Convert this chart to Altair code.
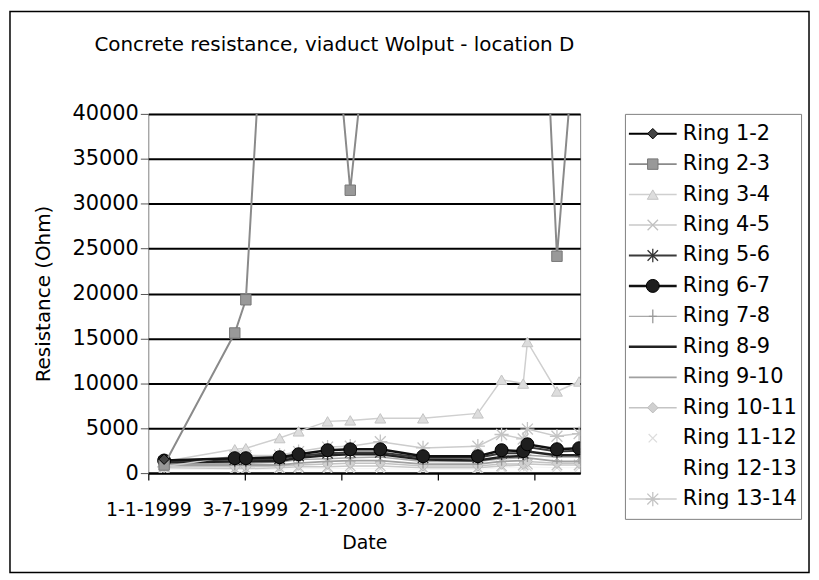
import altair as alt
import pandas as pd

# ---------------- data ----------------
dates = ["1999-01-31", "1999-06-14", "1999-07-05", "1999-09-07", "1999-10-13",
         "1999-12-07", "2000-01-19", "2000-03-16", "2000-06-05", "2000-09-17",
         "2000-11-01", "2000-12-12", "2000-12-20", "2001-02-14", "2001-03-28"]

series_names = ["Ring 1-2", "Ring 2-3", "Ring 3-4", "Ring 4-5", "Ring 5-6",
                "Ring 6-7", "Ring 7-8", "Ring 8-9", "Ring 9-10", "Ring 10-11",
                "Ring 11-12", "Ring 12-13", "Ring 13-14"]

ring_1_2 = [1550, None, None, None, None, None, None, None, None, None, None, None, None, None, None]
ring_2_3 = [900, 15600, 19300, 84000, 80000, 59500, 31500, 63400, 90000, 95000, 95000, 95000, 94300, 24150, 54400]
ring_3_4 = [1300, 2650, 2770, 3900, 4650, 5760, 5870, 6100, 6100, 6650, 10400, 9970, 14600, 9090, 10200]
ring_4_5 = [600, 500, 500, 600, 700, 700, 800, 800, 600, 600, 800, 900, 1000, 900, 900]
ring_5_6 = [1300, 1500, 1500, 1600, 1900, 2200, 2300, 2300, 1700, 1700, 2200, 2200, 2900, 2400, 2500]
ring_6_7 = [1400, 1660, 1660, 1770, 2100, 2550, 2650, 2650, 1880, 1880, 2550, 2440, 3210, 2660, 2770]
ring_7_8 = [1100, 1100, 1100, 1200, 1500, 1600, 1700, 1800, 1300, 1300, 1600, 1700, 2000, 1800, 1800]
ring_8_9 = [1200, 1300, 1300, 1350, 1700, 2000, 2100, 2100, 1500, 1400, 1800, 1900, 2400, 2000, 2000]
ring_9_10 = [900, 900, 900, 900, 1100, 1300, 1400, 1400, 1000, 1000, 1300, 1400, 1700, 1300, 1300]
ring_10_11 = [800, 700, 700, 800, 900, 1000, 1100, 1100, 800, 800, 1000, 1000, 1300, 1100, 1100]
ring_11_12 = [400, 400, 400, 400, 500, 500, 500, 500, 400, 400, 600, 600, 700, 600, 600]
ring_12_13 = [300, 300, 300, 300, 400, 400, 400, 400, 300, 300, 400, 400, 500, 400, 400]
ring_13_14 = [700, 1900, 1950, 2000, 2400, 2900, 3000, 3500, 2800, 3000, 4300, 3800, 4900, 4100, 4400]

values = [ring_1_2, ring_2_3, ring_3_4, ring_4_5, ring_5_6, ring_6_7, ring_7_8,
          ring_8_9, ring_9_10, ring_10_11, ring_11_12, ring_12_13, ring_13_14]

y_ticks = [0, 5000, 10000, 15000, 20000, 25000, 30000, 35000, 40000]
x_ticks = ["1999-01-01T00:00:00", "1999-07-03T00:00:00", "2000-01-02T00:00:00",
           "2000-07-03T00:00:00", "2001-01-02T00:00:00"]
x_domain = ["1999-01-01T00:00:00", "2001-03-30T00:00:00"]

# ---------------- styles ----------------
X_PATH = "M-1,-1L1,1M-1,1L1,-1"
AST_PATH = "M-1,-1L1,1M-1,1L1,-1M0,-1.3L0,1.3"
PLUS_PATH = "M0,-1.4L0,1.4M-0.8,0L0.8,0"
STAR_PATH = "M-1,-1L1,1M-1,1L1,-1M0,-1.3L0,1.3M-1.3,0L1.3,0"

styles = {
    "Ring 1-2":   dict(line="#000000", lw=2.0, shape="diamond", fill="#444444", stroke="#000000", size=110, filled=True),
    "Ring 2-3":   dict(line="#8a8a8a", lw=2.0, shape="square", fill="#999999", stroke="#777777", size=110, filled=True),
    "Ring 3-4":   dict(line="#cfcfcf", lw=1.5, shape="triangle-up", fill="#dddddd", stroke="#c4c4c4", size=120, filled=True),
    "Ring 4-5":   dict(line="#c8c8c8", lw=1.5, shape=X_PATH, fill=None, stroke="#c0c0c0", size=110, filled=False),
    "Ring 5-6":   dict(line="#3a3a3a", lw=2.0, shape=AST_PATH, fill=None, stroke="#333333", size=110, filled=False),
    "Ring 6-7":   dict(line="#111111", lw=2.5, shape="circle", fill="#1e1e1e", stroke="#000000", size=170, filled=True),
    "Ring 7-8":   dict(line="#a8a8a8", lw=1.5, shape=PLUS_PATH, fill=None, stroke="#999999", size=100, filled=False),
    "Ring 8-9":   dict(line="#222222", lw=2.5, shape=None),
    "Ring 9-10":  dict(line="#a0a0a0", lw=1.8, shape=None),
    "Ring 10-11": dict(line="#c4c4c4", lw=1.5, shape="diamond", fill="#d0d0d0", stroke="#bbbbbb", size=110, filled=True),
    "Ring 11-12": dict(line="#f4f4f4", lw=1.0, shape=X_PATH, fill=None, stroke="#dddddd", size=70, filled=False),
    "Ring 12-13": dict(line="#ffffff", lw=1.0, shape=None),
    "Ring 13-14": dict(line="#cccccc", lw=1.5, shape=STAR_PATH, fill=None, stroke="#c4c4c4", size=120, filled=False),
}

FONT = "DejaVu Sans"

rows = []
for name, vals in zip(series_names, values):
    for d, v in zip(dates, vals):
        if v is not None:
            rows.append({"date": d + "T00:00:00", "series": name, "value": v})
df = pd.DataFrame(rows)

W, H = 434, 361

x_enc = alt.X("date:T",
              scale=alt.Scale(domain=x_domain),
              axis=alt.Axis(values=x_ticks, format="%-d-%-m-%Y", grid=False,
                            domainColor="black", domainWidth=2, tickColor="black",
                            tickSize=7, tickWidth=1.2, labelFont=FONT, labelFontSize=19,
                            labelColor="black", labelPadding=21,
                            title="Date", titleFont=FONT, titleFontSize=19,
                            titleFontWeight="normal", titleColor="black", titlePadding=14,
                            labelFlush=False, labelOverlap=False))
y_enc = alt.Y("value:Q",
              scale=alt.Scale(domain=[0, 40000], nice=False, zero=True),
              axis=alt.Axis(values=y_ticks, format="d", grid=True, gridColor="black",
                            gridWidth=2, domain=False, tickColor="#555555", tickSize=8,
                            labelFont=FONT, labelFontSize=21, labelColor="black",
                            labelPadding=2, title="Resistance (Ohm)", titleFont=FONT,
                            titleFontSize=20, titleFontWeight="normal", titleColor="black",
                            titlePadding=18))

base = alt.Chart(df)

layers = []
# axis-crossing line at the first measurement date
first_df = pd.DataFrame({"date": [dates[0] + "T00:00:00"]})
layers.append(alt.Chart(first_df).mark_rule(color="black", strokeWidth=2).encode(
    x=alt.X("date:T")))

draw_order = ["Ring 12-13", "Ring 11-12", "Ring 4-5", "Ring 10-11", "Ring 9-10",
              "Ring 7-8", "Ring 8-9", "Ring 5-6", "Ring 13-14", "Ring 3-4",
              "Ring 6-7", "Ring 2-3", "Ring 1-2"]
for name in draw_order:
    st = styles[name]
    sub = base.transform_filter(alt.datum.series == name)
    layers.append(sub.mark_line(color=st["line"], strokeWidth=st["lw"], clip=True)
                  .encode(x="date:T", y="value:Q"))
    if st["shape"]:
        kw = dict(shape=st["shape"], size=st["size"], filled=st["filled"],
                  stroke=st["stroke"], strokeWidth=1.3 if not st["filled"] else 1,
                  opacity=1, clip=True)
        if st["filled"]:
            kw["fill"] = st["fill"]
        layers.append(sub.mark_point(**kw).encode(x="date:T", y="value:Q"))

main = alt.layer(*layers).encode(x=x_enc, y=y_enc).properties(
    width=W, height=H,
    title=alt.TitleParams("Concrete resistance, viaduct Wolput - location D",
                          font=FONT, fontSize=20, fontWeight="normal", color="black",
                          dx=-30, offset=48))

# ---------------- legend ----------------
leg_df = pd.DataFrame({"series": series_names})
leg_y = alt.Y("series:N", scale=alt.Scale(type="point", domain=series_names, padding=0.65),
              axis=None)

# overall chart frame (decoration), anchored to the legend panel
frame = alt.Chart(pd.DataFrame({"a": [0]})).mark_rect(
    fillOpacity=0, stroke="black", strokeWidth=1.5, clip=False).encode(
    x=alt.value(-618), x2=alt.value(185), y=alt.value(-103), y2=alt.value(461))

leg_layers = [frame]
for name in series_names:
    st = styles[name]
    sub = alt.Chart(leg_df).transform_filter(alt.datum.series == name)
    if name not in ("Ring 11-12", "Ring 12-13"):
        leg_layers.append(sub.mark_rule(color=st["line"], strokeWidth=st["lw"]).encode(
            y=leg_y, x=alt.value(4), x2=alt.value(52)))
    if st["shape"]:
        kw = dict(shape=st["shape"], size=st["size"], filled=st["filled"],
                  stroke=st["stroke"], strokeWidth=1.3 if not st["filled"] else 1, opacity=1)
        if st["filled"]:
            kw["fill"] = st["fill"]
        leg_layers.append(sub.mark_point(**kw).encode(y=leg_y, x=alt.value(28)))
leg_layers.append(alt.Chart(leg_df).mark_text(align="left", baseline="middle", font=FONT,
                                              fontSize=21, color="black").encode(
    y=leg_y, x=alt.value(58), text="series:N"))
legend = alt.layer(*leg_layers).properties(width=177, height=407)

chart = alt.hconcat(main, legend, spacing=45, bounds="flush").properties(
    padding=0).configure_view(stroke="#808080", strokeWidth=1)

chart.save("out.html", embed_options={"renderer": "svg", "actions": False})
